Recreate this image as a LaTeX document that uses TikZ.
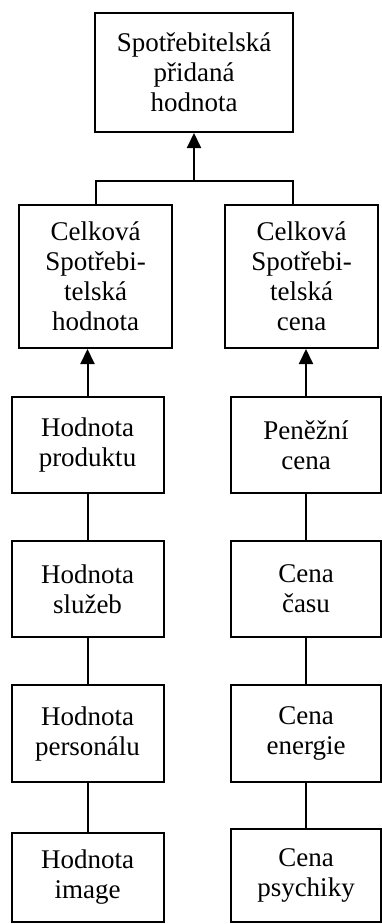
\documentclass[tikz,border=0pt]{standalone}
\usepackage{fontspec}
\setmainfont{Liberation Serif}
\usetikzlibrary{arrows.meta}
\begin{document}
\begin{tikzpicture}[x=1pt,y=-1pt,
  box/.style={draw,line width=2pt,inner sep=0pt,align=center,
    font=\fontsize{27}{30}\selectfont},
  link/.style={line width=2pt},
  arr/.style={line width=2pt,-{Triangle[width=14pt,length=15pt]}}]
\useasboundingbox (0,0) rectangle (382,924);

% top result
\node[box,minimum width=198pt,minimum height=119pt] (top) at (194,72.5)
  {Spotřebitelská\\přidaná\\hodnota};

% the two totals
\node[box,minimum width=153pt,minimum height=143pt] (ml) at (95.5,276.5)
  {Celková\\Spotřebi-\\telská\\hodnota};
\node[box,minimum width=153pt,minimum height=143pt] (mr) at (301.5,276.5)
  {Celková\\Spotřebi-\\telská\\cena};

% value column
\node[box,minimum width=152pt,minimum height=96pt] (l1) at (87.5,445) {Hodnota\\produktu};
\node[box,minimum width=152pt,minimum height=96pt] (l2) at (87.5,589) {Hodnota\\služeb};
\node[box,minimum width=152pt,minimum height=97pt] (l3) at (87.5,733.5) {Hodnota\\personálu};
\node[box,minimum width=152pt,minimum height=89pt] (l4) at (87.5,877.5) {Hodnota\\image};

% cost column
\node[box,minimum width=150pt,minimum height=96pt] (r1) at (306,445) {Peněžní\\cena};
\node[box,minimum width=150pt,minimum height=96pt] (r2) at (306,589) {Cena\\času};
\node[box,minimum width=150pt,minimum height=97pt] (r3) at (306,733.5) {Cena\\energie};
\node[box,minimum width=150pt,minimum height=93pt] (r4) at (306,875.5) {Cena\\psychiky};

% junction under the top box
\coordinate (jl) at (95.5,181);
\coordinate (jr) at (293,181);
\draw[link] (ml.north) -- (jl) -- (jr) -- (jr |- mr.north);
\draw[arr] (top.south |- jl) -- (top.south);

% columns feeding the totals
\draw[arr] (l1.north) -- (l1.north |- ml.south);
\draw[arr] (r1.north) -- (r1.north |- mr.south);
\draw[link] (l1.south) -- (l2.north);
\draw[link] (l2.south) -- (l3.north);
\draw[link] (l3.south) -- (l4.north);
\draw[link] (r1.south) -- (r2.north);
\draw[link] (r2.south) -- (r3.north);
\draw[link] (r3.south) -- (r4.north);
\end{tikzpicture}
\end{document}
